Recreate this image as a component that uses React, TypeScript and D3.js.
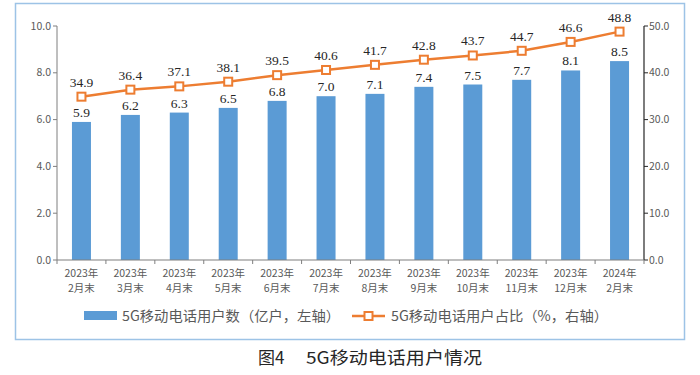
import React from "react";
import * as d3 from "d3";

const yearLabels = ["2023年","2023年","2023年","2023年","2023年","2023年","2023年","2023年","2023年","2023年","2023年","2024年"];
const monthLabels = ["2月末","3月末","4月末","5月末","6月末","7月末","8月末","9月末","10月末","11月末","12月末","2月末"];
const users = [5.9, 6.2, 6.3, 6.5, 6.8, 7.0, 7.1, 7.4, 7.5, 7.7, 8.1, 8.5];
const share = [34.9, 36.4, 37.1, 38.1, 39.5, 40.6, 41.7, 42.8, 43.7, 44.7, 46.6, 48.8];
const leftTicks = [0, 2, 4, 6, 8, 10];
const rightTicks = [0, 10, 20, 30, 40, 50];

const W = 700, H = 375;
const left = 57, right = 644, top = 26, bottom = 260;
const cats = d3.range(users.length).map(String);
const xb = d3.scaleBand().domain(cats).range([left, right]);
const yL = d3.scaleLinear().domain([0, 10]).range([bottom, top]);
const yR = d3.scaleLinear().domain([0, 50]).range([bottom, top]);

const BLUE = "#5b9bd5";
const ORANGE = "#ed7d31";
const GRAY = "#595959";
const sans = "'Noto Sans CJK SC', 'Noto Sans', sans-serif";
const serif = "'Liberation Serif', 'DejaVu Serif', serif";

export default function App() {
  const line = d3.line<number>()
    .x((_, i) => xb(String(i))! + xb.bandwidth() / 2)
    .y((d) => yR(d));
  return (
    <svg width={W} height={H} style={{ position: "absolute", left: 0, top: 0, background: "#fff" }}>
      <rect x={15.5} y={3.5} width={669} height={336} fill="#fff" stroke="#9dc3e6" strokeWidth={1.5} />
      {users.map((v, i) => {
        const bx = xb(String(i))! + xb.bandwidth() / 2 - 9.5;
        return <rect key={i} x={bx} y={yL(v)} width={19} height={bottom - yL(v)} fill={BLUE} />;
      })}
      <line x1={left} x2={left} y1={top} y2={bottom} stroke="#7f7f7f" strokeWidth={1} />
      {leftTicks.map((t) => (
        <g key={t}>
          <line x1={left - 4} x2={left} y1={yL(t)} y2={yL(t)} stroke="#7f7f7f" />
          <text x={left - 6} y={yL(t)} dy="0.35em" textAnchor="end" fontSize={10.5} fill={GRAY} fontFamily={sans}>{t.toFixed(1)}</text>
        </g>
      ))}
      <line x1={right} x2={right} y1={top} y2={bottom} stroke="#262626" strokeWidth={1.2} />
      {rightTicks.map((t) => (
        <g key={t}>
          <line x1={right} x2={right + 4} y1={yR(t)} y2={yR(t)} stroke="#262626" />
          <text x={right + 5} y={yR(t)} dy="0.35em" textAnchor="start" fontSize={10.5} fill={GRAY} fontFamily={sans}>{t.toFixed(1)}</text>
        </g>
      ))}
      <line x1={left} x2={right} y1={bottom} y2={bottom} stroke="#7f7f7f" />
      {d3.range(users.length + 1).map((i) => {
        const tx = left + i * xb.bandwidth();
        return <line key={i} x1={tx} x2={tx} y1={bottom} y2={bottom + 4} stroke="#7f7f7f" />;
      })}
      {cats.map((c, i) => {
        const cx = xb(c)! + xb.bandwidth() / 2;
        return (
          <text key={c} textAnchor="middle" fontSize={10.5} fill={GRAY} fontFamily={sans}>
            <tspan x={cx} y={277}>{yearLabels[i]}</tspan>
            <tspan x={cx} y={292}>{monthLabels[i]}</tspan>
          </text>
        );
      })}
      {users.map((v, i) => (
        <text key={i} x={xb(String(i))! + xb.bandwidth() / 2} y={yL(v) - 5} textAnchor="middle" fontSize={13.5} fill="#262626" fontFamily={serif}>{v.toFixed(1)}</text>
      ))}
      <path d={line(share) || ""} fill="none" stroke={ORANGE} strokeWidth={2.5} />
      {share.map((v, i) => {
        const cx = xb(String(i))! + xb.bandwidth() / 2;
        return (
          <g key={i}>
            <rect x={cx - 4} y={yR(v) - 4} width={8} height={8} fill="#fff" stroke={ORANGE} strokeWidth={2} />
            <text x={cx} y={yR(v) - 10} textAnchor="middle" fontSize={13.5} fill="#262626" fontFamily={serif}>{v.toFixed(1)}</text>
          </g>
        );
      })}
      <rect x={84} y={311} width={33} height={9} fill={BLUE} />
      <text x={122} y={321} fontSize={14} fill={GRAY} fontFamily={sans} textLength={218} lengthAdjust="spacingAndGlyphs">5G移动电话用户数（亿户，左轴）</text>
      <line x1={352} x2={385} y1={316} y2={316} stroke={ORANGE} strokeWidth={2.5} />
      <rect x={364.5} y={312} width={8} height={8} fill="#fff" stroke={ORANGE} strokeWidth={2} />
      <text x={391} y={321} fontSize={14} fill={GRAY} fontFamily={sans} textLength={217} lengthAdjust="spacingAndGlyphs">5G移动电话用户占比（%，右轴）</text>
      <text x={258} y={364} fontSize={17} fill="#262626" fontFamily={sans}>图4</text>
      <text x={306} y={364} fontSize={17} fill="#262626" fontFamily={sans} textLength={176} lengthAdjust="spacingAndGlyphs">5G移动电话用户情况</text>
    </svg>
  );
}
